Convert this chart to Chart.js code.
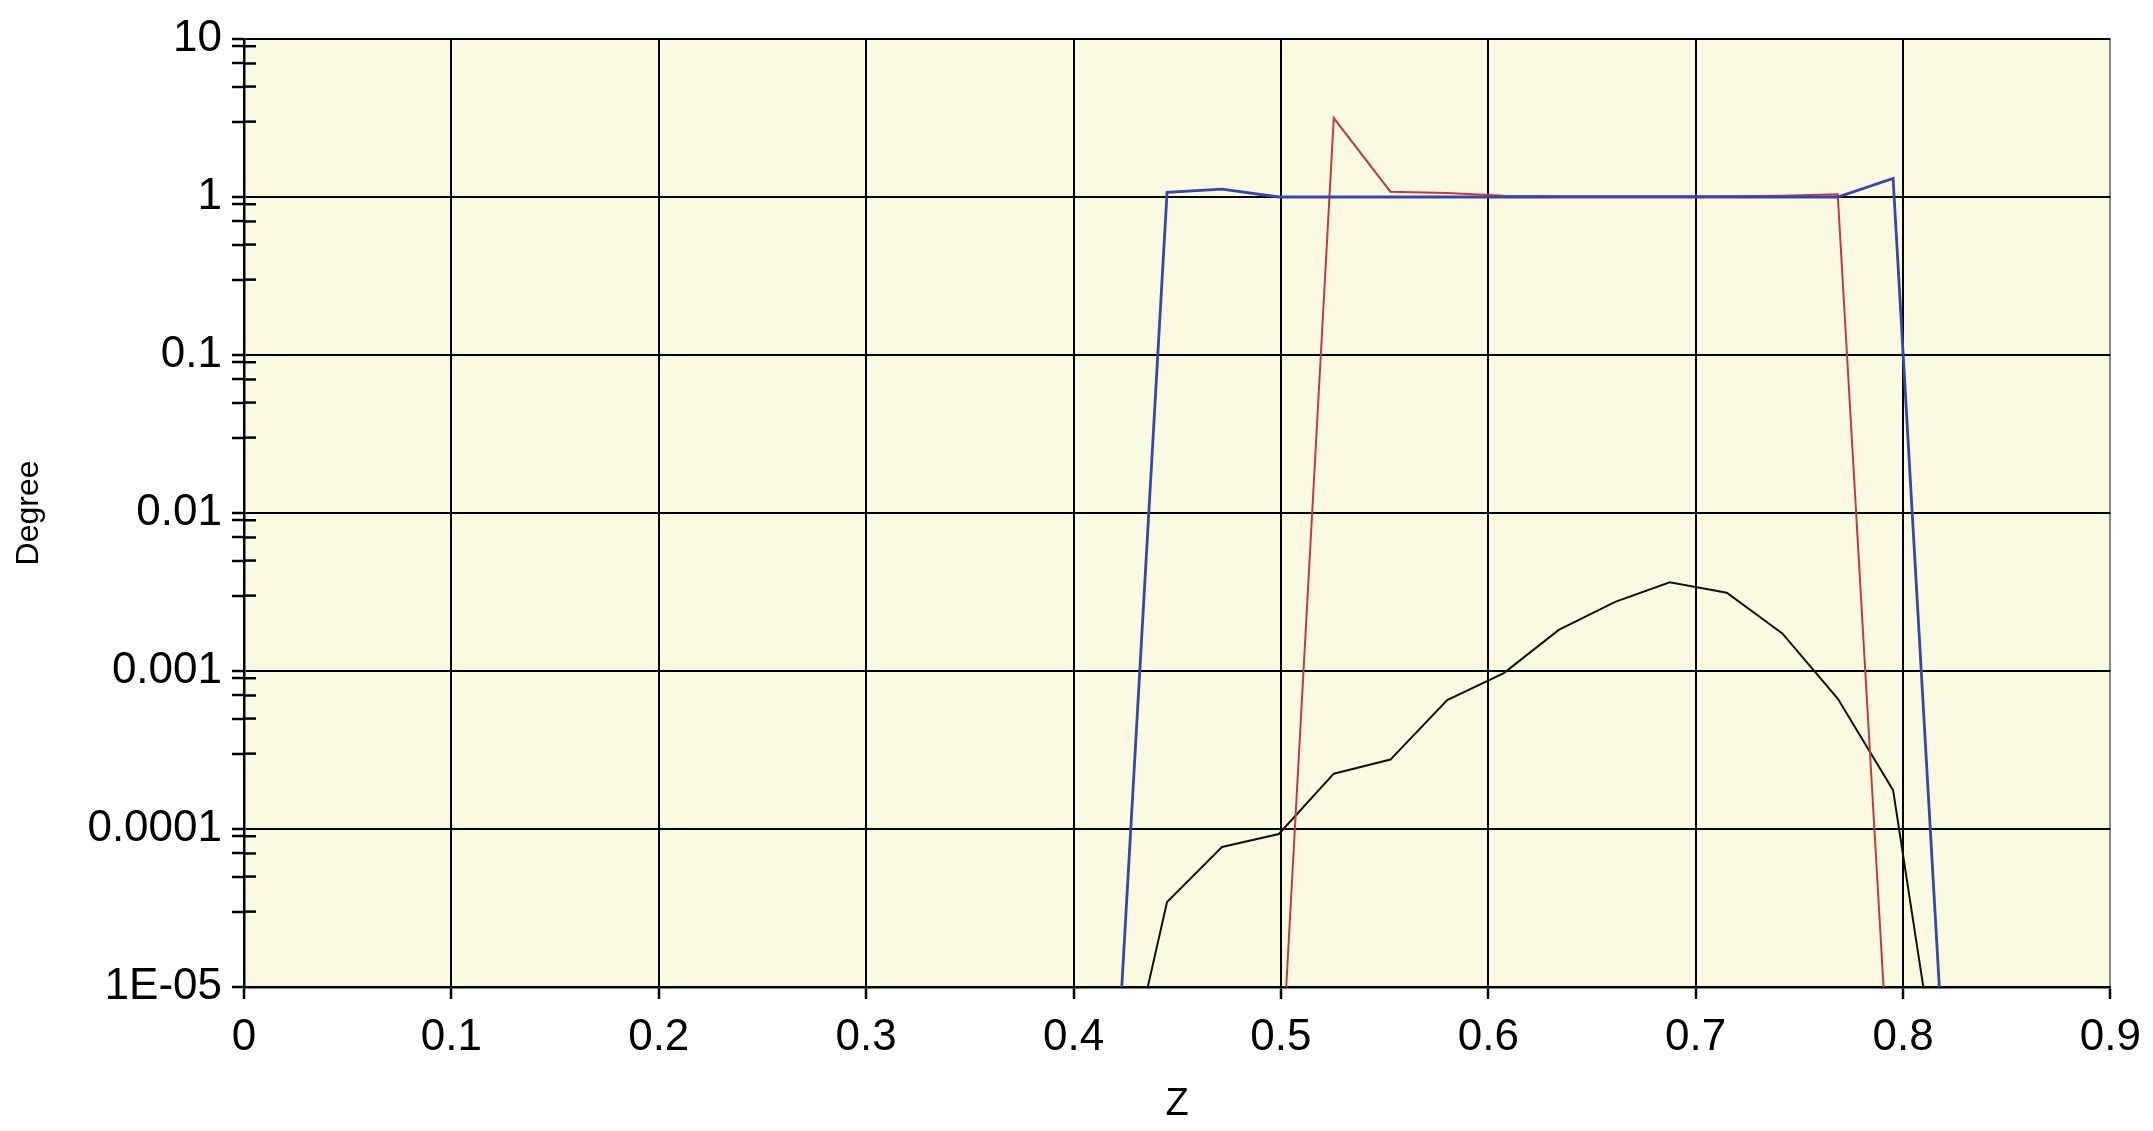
<!DOCTYPE html>
<html>
<head>
<meta charset="utf-8">
<script src="https://cdn.jsdelivr.net/npm/chart.js@4.4.1/dist/chart.umd.min.js"></script>
<style>
  html, body { margin: 0; padding: 0; background: #ffffff; }
  #wrap { width: 2153px; height: 1131px; position: relative; }
</style>
</head>
<body>
<div id="wrap"><canvas id="c"></canvas></div>
<script>
// ---- data ----
const zValues = [0.4185, 0.4451, 0.4716, 0.4990, 0.5255, 0.5528, 0.5802, 0.6075,
                 0.6340, 0.6612, 0.6875, 0.7150, 0.7418, 0.7685, 0.7952, 0.8222];
const blueDegree = [8e-7, 1.07, 1.12, 1.0, 1.0, 1.0, 1.0, 1.0,
                    1.0, 1.0, 1.0, 1.0, 1.0, 1.0, 1.31, 8.3e-7];
const redDegree = [null, null, null, 1.4e-6, 3.16, 1.08, 1.06, 1.02,
                   1.01, 1.01, 1.01, 1.01, 1.02, 1.04, 9e-7, null];
const blackDegree = [1.0e-6, 3.45e-5, 7.7e-5, 9.3e-5, 2.24e-4, 2.75e-4, 6.55e-4, 9.7e-4,
                     1.82e-3, 2.74e-3, 3.64e-3, 3.13e-3, 1.73e-3, 6.7e-4, 1.76e-4, 8.7e-7];

const xTickValues = [0, 0.1, 0.2, 0.3, 0.4, 0.5, 0.6, 0.7, 0.8, 0.9];
const xTickLabels = ['0', '0.1', '0.2', '0.3', '0.4', '0.5', '0.6', '0.7', '0.8', '0.9'];
const yMajorValues = [10, 1, 0.1, 0.01, 0.001, 0.0001, 0.00001];
const yMajorLabels = ['10', '1', '0.1', '0.01', '0.001', '0.0001', '1E-05'];
const yMinorMultipliers = [3, 5, 7, 9];

const xTitle = 'Z';
const yTitle = 'Degree';

// ---- helpers ----
function pts(ys) {
  return zValues.map((z, i) => ({ x: z, y: ys[i] }));
}
function majorIndex(v) {
  for (let i = 0; i < yMajorValues.length; i++) {
    if (Math.abs(Math.log10(v) - Math.log10(yMajorValues[i])) < 1e-6) return i;
  }
  return -1;
}
const yTickValues = [];
yMajorValues.forEach(v => yTickValues.push(v));
for (let e = -5; e <= 0; e++) {
  yMinorMultipliers.forEach(m => yTickValues.push(m * Math.pow(10, e)));
}
yTickValues.sort((a, b) => a - b);

const FONT = "'Liberation Sans', Arial, sans-serif";

const bgPlugin = {
  id: 'bg',
  beforeDraw(chart) {
    const { ctx, chartArea: a } = chart;
    ctx.save();
    ctx.fillStyle = '#ffffff';
    ctx.fillRect(0, 0, chart.width, chart.height);
    ctx.fillStyle = '#fafae2';
    ctx.fillRect(a.left, a.top, a.right - a.left, a.bottom - a.top);
    ctx.restore();
  }
};
const innerTickPlugin = {
  id: 'innerTicks',
  afterDraw(chart) {
    const ys = chart.scales.y;
    const { ctx, chartArea: a } = chart;
    ctx.save();
    ctx.strokeStyle = '#000';
    ctx.lineWidth = 2.5;
    ys.ticks.forEach(t => {
      if (majorIndex(t.value) < 0) {
        const py = ys.getPixelForValue(t.value);
        ctx.beginPath();
        ctx.moveTo(a.left, py);
        ctx.lineTo(a.left + 12, py);
        ctx.stroke();
      }
    });
    ctx.restore();
  }
};

Chart.defaults.font.family = FONT;
Chart.defaults.color = '#000';

new Chart(document.getElementById('c'), {
  type: 'line',
  data: {
    datasets: [
      { label: 'blue', data: pts(blueDegree), borderColor: '#3846a6', borderWidth: 2.8, pointRadius: 0, tension: 0, fill: false },
      { label: 'red', data: pts(redDegree), borderColor: '#c23a3c', borderWidth: 2, pointRadius: 0, tension: 0, fill: false },
      { label: 'black', data: pts(blackDegree), borderColor: '#111111', borderWidth: 2, pointRadius: 0, tension: 0, fill: false }
    ]
  },
  options: {
    responsive: true,
    maintainAspectRatio: false,
    devicePixelRatio: 1,
    animation: false,
    events: [],
    layout: { padding: { left: 0, top: 39, right: 42, bottom: 0 } },
    plugins: { legend: { display: false }, tooltip: { enabled: false } },
    scales: {
      x: {
        type: 'linear',
        min: 0, max: 0.9,
        afterBuildTicks: s => { s.ticks = xTickValues.map(v => ({ value: v })); },
        afterFit: s => { s.height = 144; },
        ticks: {
          autoSkip: false, maxRotation: 0, padding: 12,
          font: { size: 44, family: FONT }, color: '#000',
          callback: (v, i) => xTickLabels[i]
        },
        grid: {
          color: c => (c.tick && c.tick.value >= 0.9 - 1e-9) ? '#8a8a8a' : '#000',
          lineWidth: 2, tickLength: 12, tickColor: '#000', tickWidth: 2.5
        },
        border: { display: true, color: '#000', width: 2.5 },
        title: { display: true, text: xTitle, font: { size: 38, family: FONT }, color: '#000', padding: { top: 0, bottom: 4 } }
      },
      y: {
        type: 'logarithmic',
        min: 1e-5, max: 10,
        afterBuildTicks: s => { s.ticks = yTickValues.map(v => ({ value: v })); },
        afterFit: s => { s.width = 244; },
        ticks: {
          autoSkip: false, padding: 10,
          font: { size: 44, family: FONT }, color: '#000',
          callback: v => { const i = majorIndex(v); return i >= 0 ? yMajorLabels[i] : ''; }
        },
        grid: {
          color: c => (c.tick && majorIndex(c.tick.value) >= 0) ? '#000' : 'rgba(0,0,0,0)',
          lineWidth: 2, tickLength: 12, tickColor: '#000', tickWidth: 2.5
        },
        border: { display: true, color: '#000', width: 2.5 },
        title: { display: true, text: yTitle, font: { size: 32, family: FONT }, color: '#000', padding: { top: 10, bottom: 0 } }
      }
    }
  },
  plugins: [bgPlugin, innerTickPlugin]
});
</script>
</body>
</html>
